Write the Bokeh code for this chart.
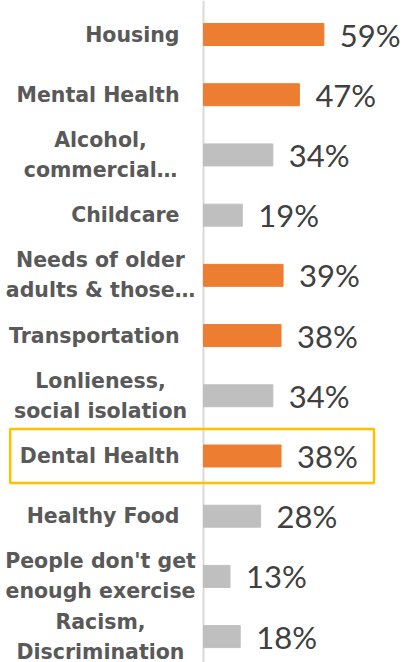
from bokeh.plotting import figure
from bokeh.models import Range1d, Span, ColumnDataSource
from bokeh.core.properties import value
from bokeh.embed import file_html
from bokeh.resources import INLINE

# ---- data ----
categories = [
    "Housing",
    "Mental Health",
    "Alcohol,\ncommercial…",
    "Childcare",
    "Needs of older\nadults & those…",
    "Transportation",
    "Lonlieness,\nsocial isolation",
    "Dental Health",
    "Healthy Food",
    "People don't get\nenough exercise",
    "Racism,\nDiscrimination",
]
values = [59, 47, 34, 19, 39, 38, 34, 38, 28, 13, 18]
highlighted = [True, True, False, False, True, True, False, True, False, False, False]
boxed_category = "Dental Health"

ORANGE = "#ED7D31"
GREY = "#BFBFBF"

W, H = 405, 662
PX_PER_PCT = 2.04
AXIS_X = 203

idx = list(range(len(categories)))
colors = [ORANGE if h else GREY for h in highlighted]
single = [("\n" not in c) for c in categories]

src = ColumnDataSource(dict(y=idx, v=values, color=colors,
                            label=[f"{v}%" for v in values]))
src_single = ColumnDataSource(dict(
    y=[i for i in idx if single[i]],
    t=[categories[i] for i in idx if single[i]],
    x=[0] * sum(single)))
src_multi = ColumnDataSource(dict(
    y=[i for i in idx if not single[i]],
    t=[categories[i] for i in idx if not single[i]],
    x=[0] * (len(idx) - sum(single))))

x_start = -AXIS_X / PX_PER_PCT
x_end = (W - AXIS_X) / PX_PER_PCT
p = figure(width=W, height=H, output_backend="svg", toolbar_location=None,
           x_range=Range1d(x_start, x_end),
           y_range=Range1d(len(categories) - 1 + 0.43, -0.565),
           min_border=0, outline_line_color=None)
p.axis.visible = False
p.grid.visible = False
p.background_fill_color = "white"
p.border_fill_color = "white"

p.add_layout(Span(location=0, dimension="height", line_color="#D9D9D9",
                  line_width=2, level="underlay"))

p.hbar(y="y", left=0, right="v", height=0.365, color="color", source=src)

p.text(x="v", y="y", text="label", source=src, x_offset=16,
       text_baseline="middle", text_align="left",
       text_font=value("Lato"), text_font_size="31px", text_color="#404040")

p.text(x="x", y="y", text="t", source=src_single, x_offset=-24,
       text_baseline="middle", text_align="right",
       text_font=value("DejaVu Sans"), text_font_style="bold",
       text_font_size="20.5px", text_color="#595959")
p.text(x="x", y="y", text="t", source=src_multi, x_offset=-103,
       text_baseline="middle", text_align="center", text_line_height=1.25,
       text_font=value("DejaVu Sans"), text_font_style="bold",
       text_font_size="20.5px", text_color="#595959")

bi = categories.index(boxed_category)
p.quad(left=x_start + 9.7 / PX_PER_PCT, right=(373.5 - AXIS_X) / PX_PER_PCT,
       top=bi - 0.45, bottom=bi + 0.45, fill_color=None,
       line_color="#FFC000", line_width=2.5)

open("out.html", "w").write(file_html(p, INLINE))
